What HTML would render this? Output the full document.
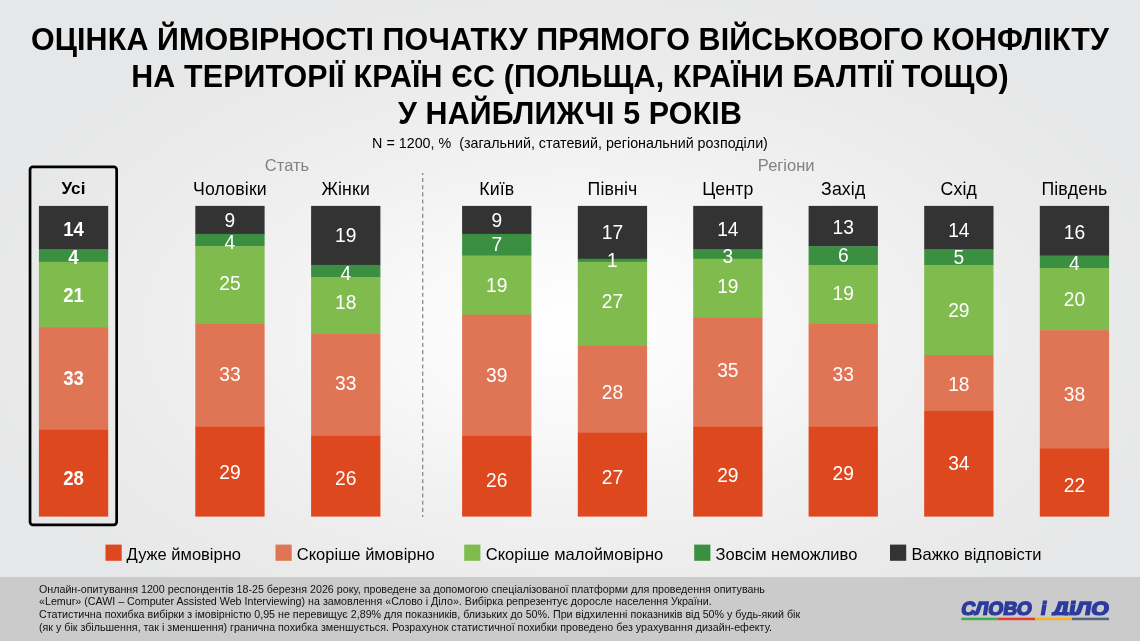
<!DOCTYPE html>
<html lang="uk"><head><meta charset="utf-8"><title>Оцінка ймовірності</title>
<style>
html,body{margin:0;padding:0}
body{width:1140px;height:641px;overflow:hidden;position:relative;font-family:"Liberation Sans",sans-serif;color:#000;
background:radial-gradient(ellipse 640px 360px at 575px 330px, #ffffff 0%, #f9f9f9 25%, #f1f1f1 50%, #ebebeb 75%, #e6e7e8 100%);}
.title{position:absolute;left:0;width:1140px;transform:scaleY(1.03);transform-origin:50% 28.94px;text-align:center;font-weight:bold;font-size:30.4px;line-height:36.8px;letter-spacing:0.15px;white-space:nowrap}
.sub{position:absolute;left:0;top:135.4px;width:1140px;text-align:center;font-size:14.3px;line-height:16px;white-space:pre}
.grp{position:absolute;font-size:16.5px;color:#828282;line-height:18px;top:156px;text-align:center;width:120px}
.cat{position:absolute;top:179.1px;text-align:center;font-size:17.7px;letter-spacing:0.15px;line-height:20px;white-space:nowrap}
.cat.b{font-weight:bold;font-size:17.1px}
.bars{position:absolute;left:0;top:0;width:1140px;height:641px}
.num{position:absolute;color:#fff;font-size:19.2px;line-height:20px;height:20px;text-align:center;transform:scaleY(1.05)}
.num.b{font-weight:bold;font-size:18.6px;transform:scaleY(1.09)}
.box{position:absolute;left:0;top:0;width:150px;height:540px}
.div{position:absolute;left:400px;top:160px;width:50px;height:370px}
.leg{position:absolute;top:544px;font-size:16.5px;line-height:20px;white-space:nowrap}
.foot{position:absolute;left:0;top:576.5px;width:1140px;height:65px;background:#cbcbcb}
.ft{position:absolute;left:39px;top:6.1px;font-size:10.7px;line-height:12.85px;color:#111;white-space:nowrap}
.logo{position:absolute;left:958px;top:17.5px;width:156px;height:34px}
</style></head><body>
<div class="title" style="top:20.8px">ОЦІНКА ЙМОВІРНОСТІ ПОЧАТКУ ПРЯМОГО ВІЙСЬКОВОГО КОНФЛІКТУ</div>
<div class="title" style="top:57.8px">НА ТЕРИТОРІЇ КРАЇН ЄС (ПОЛЬЩА, КРАЇНИ БАЛТІЇ ТОЩО)</div>
<div class="title" style="top:94.8px">У НАЙБЛИЖЧІ 5 РОКІВ</div>
<div class="sub">N = 1200, %  (загальний, статевий, регіональний розподіли)</div>
<div class="grp" style="left:227px">Стать</div>
<div class="grp" style="left:726.2px">Регіони</div>
<svg class="box" viewBox="0 0 150 540"><rect x="30.05" y="166.85" width="86.6" height="358" rx="2.8" ry="2.8" fill="none" stroke="#000" stroke-width="2.7"/></svg>
<svg class="div" viewBox="400 160 50 370"><line x1="422.7" y1="172.9" x2="422.7" y2="517" stroke="#8a8a8a" stroke-width="1.3" stroke-dasharray="4.1 3.07" stroke-dashoffset="2.07"/></svg>
<svg class="bars" viewBox="0 0 1140 641">
<rect x="38.9" y="205.90" width="69.3" height="43.80" fill="#333333"/>
<rect x="38.9" y="249.40" width="69.3" height="12.73" fill="#3a8f40"/>
<rect x="38.9" y="261.83" width="69.3" height="65.55" fill="#7fbb4d"/>
<rect x="38.9" y="327.07" width="69.3" height="102.83" fill="#e07555"/>
<rect x="38.9" y="429.60" width="69.3" height="87.00" fill="#de481e"/>
<rect x="195.3" y="205.90" width="69.3" height="28.26" fill="#333333"/>
<rect x="195.3" y="233.86" width="69.3" height="12.73" fill="#3a8f40"/>
<rect x="195.3" y="246.29" width="69.3" height="77.97" fill="#7fbb4d"/>
<rect x="195.3" y="323.97" width="69.3" height="102.83" fill="#e07555"/>
<rect x="195.3" y="426.50" width="69.3" height="90.10" fill="#de481e"/>
<rect x="311.1" y="205.90" width="69.3" height="59.33" fill="#333333"/>
<rect x="311.1" y="264.93" width="69.3" height="12.73" fill="#3a8f40"/>
<rect x="311.1" y="277.36" width="69.3" height="56.23" fill="#7fbb4d"/>
<rect x="311.1" y="333.29" width="69.3" height="102.83" fill="#e07555"/>
<rect x="311.1" y="435.82" width="69.3" height="80.78" fill="#de481e"/>
<rect x="462.1" y="205.90" width="69.3" height="28.26" fill="#333333"/>
<rect x="462.1" y="233.86" width="69.3" height="22.05" fill="#3a8f40"/>
<rect x="462.1" y="255.61" width="69.3" height="59.33" fill="#7fbb4d"/>
<rect x="462.1" y="314.64" width="69.3" height="121.47" fill="#e07555"/>
<rect x="462.1" y="435.82" width="69.3" height="80.78" fill="#de481e"/>
<rect x="577.8" y="205.90" width="69.3" height="53.12" fill="#333333"/>
<rect x="577.8" y="258.72" width="69.3" height="3.41" fill="#3a8f40"/>
<rect x="577.8" y="261.83" width="69.3" height="84.19" fill="#7fbb4d"/>
<rect x="577.8" y="345.72" width="69.3" height="87.30" fill="#e07555"/>
<rect x="577.8" y="432.71" width="69.3" height="83.89" fill="#de481e"/>
<rect x="693.2" y="205.90" width="69.3" height="43.80" fill="#333333"/>
<rect x="693.2" y="249.40" width="69.3" height="9.62" fill="#3a8f40"/>
<rect x="693.2" y="258.72" width="69.3" height="59.33" fill="#7fbb4d"/>
<rect x="693.2" y="317.75" width="69.3" height="109.05" fill="#e07555"/>
<rect x="693.2" y="426.50" width="69.3" height="90.10" fill="#de481e"/>
<rect x="808.6" y="205.90" width="69.3" height="40.69" fill="#333333"/>
<rect x="808.6" y="246.29" width="69.3" height="18.94" fill="#3a8f40"/>
<rect x="808.6" y="264.93" width="69.3" height="59.33" fill="#7fbb4d"/>
<rect x="808.6" y="323.97" width="69.3" height="102.83" fill="#e07555"/>
<rect x="808.6" y="426.50" width="69.3" height="90.10" fill="#de481e"/>
<rect x="924.2" y="205.90" width="69.3" height="43.80" fill="#333333"/>
<rect x="924.2" y="249.40" width="69.3" height="15.84" fill="#3a8f40"/>
<rect x="924.2" y="264.93" width="69.3" height="90.40" fill="#7fbb4d"/>
<rect x="924.2" y="355.04" width="69.3" height="56.23" fill="#e07555"/>
<rect x="924.2" y="410.96" width="69.3" height="105.64" fill="#de481e"/>
<rect x="1039.8" y="205.90" width="69.3" height="50.01" fill="#333333"/>
<rect x="1039.8" y="255.61" width="69.3" height="12.73" fill="#3a8f40"/>
<rect x="1039.8" y="268.04" width="69.3" height="62.44" fill="#7fbb4d"/>
<rect x="1039.8" y="330.18" width="69.3" height="118.37" fill="#e07555"/>
<rect x="1039.8" y="448.25" width="69.3" height="68.35" fill="#de481e"/>
<rect x="105.5" y="544.6" width="16.2" height="16.2" fill="#de481e"/>
<rect x="275.5" y="544.6" width="16.2" height="16.2" fill="#e07555"/>
<rect x="464.2" y="544.6" width="16.2" height="16.2" fill="#7fbb4d"/>
<rect x="694.2" y="544.6" width="16.2" height="16.2" fill="#3a8f40"/>
<rect x="890.0" y="544.6" width="16.2" height="16.2" fill="#333333"/>
</svg>
<div class="cat b" style="left:8.9px;width:129.3px">Усі</div>
<div class="num b" style="left:38.9px;top:219.4px;width:69.3px">14</div>
<div class="num b" style="left:38.9px;top:247.2px;width:69.3px">4</div>
<div class="num b" style="left:38.9px;top:284.7px;width:69.3px">21</div>
<div class="num b" style="left:38.9px;top:367.6px;width:69.3px">33</div>
<div class="num b" style="left:38.9px;top:467.8px;width:69.3px">28</div>
<div class="cat" style="left:165.3px;width:129.3px">Чоловіки</div>
<div class="num" style="left:195.3px;top:210.8px;width:69.3px">9</div>
<div class="num" style="left:195.3px;top:233.1px;width:69.3px">4</div>
<div class="num" style="left:195.3px;top:274.0px;width:69.3px">25</div>
<div class="num" style="left:195.3px;top:364.8px;width:69.3px">33</div>
<div class="num" style="left:195.3px;top:462.8px;width:69.3px">29</div>
<div class="cat" style="left:281.1px;width:129.3px">Жінки</div>
<div class="num" style="left:311.1px;top:226.1px;width:69.3px">19</div>
<div class="num" style="left:311.1px;top:263.8px;width:69.3px">4</div>
<div class="num" style="left:311.1px;top:293.0px;width:69.3px">18</div>
<div class="num" style="left:311.1px;top:373.8px;width:69.3px">33</div>
<div class="num" style="left:311.1px;top:468.8px;width:69.3px">26</div>
<div class="cat" style="left:432.1px;width:129.3px">Київ</div>
<div class="num" style="left:462.1px;top:210.9px;width:69.3px">9</div>
<div class="num" style="left:462.1px;top:234.5px;width:69.3px">7</div>
<div class="num" style="left:462.1px;top:275.8px;width:69.3px">19</div>
<div class="num" style="left:462.1px;top:366.0px;width:69.3px">39</div>
<div class="num" style="left:462.1px;top:471.3px;width:69.3px">26</div>
<div class="cat" style="left:547.8px;width:129.3px">Північ</div>
<div class="num" style="left:577.8px;top:222.5px;width:69.3px">17</div>
<div class="num" style="left:577.8px;top:251.3px;width:69.3px">1</div>
<div class="num" style="left:577.8px;top:292.0px;width:69.3px">27</div>
<div class="num" style="left:577.8px;top:382.8px;width:69.3px">28</div>
<div class="num" style="left:577.8px;top:468.2px;width:69.3px">27</div>
<div class="cat" style="left:663.2px;width:129.3px">Центр</div>
<div class="num" style="left:693.2px;top:220.0px;width:69.3px">14</div>
<div class="num" style="left:693.2px;top:246.9px;width:69.3px">3</div>
<div class="num" style="left:693.2px;top:276.5px;width:69.3px">19</div>
<div class="num" style="left:693.2px;top:361.3px;width:69.3px">35</div>
<div class="num" style="left:693.2px;top:465.9px;width:69.3px">29</div>
<div class="cat" style="left:778.6px;width:129.3px">Захід</div>
<div class="num" style="left:808.6px;top:217.5px;width:69.3px">13</div>
<div class="num" style="left:808.6px;top:246.3px;width:69.3px">6</div>
<div class="num" style="left:808.6px;top:283.5px;width:69.3px">19</div>
<div class="num" style="left:808.6px;top:365.2px;width:69.3px">33</div>
<div class="num" style="left:808.6px;top:464.0px;width:69.3px">29</div>
<div class="cat" style="left:894.2px;width:129.3px">Схід</div>
<div class="num" style="left:924.2px;top:221.1px;width:69.3px">14</div>
<div class="num" style="left:924.2px;top:248.2px;width:69.3px">5</div>
<div class="num" style="left:924.2px;top:300.8px;width:69.3px">29</div>
<div class="num" style="left:924.2px;top:375.3px;width:69.3px">18</div>
<div class="num" style="left:924.2px;top:453.9px;width:69.3px">34</div>
<div class="cat" style="left:1009.8px;width:129.3px">Південь</div>
<div class="num" style="left:1039.8px;top:222.8px;width:69.3px">16</div>
<div class="num" style="left:1039.8px;top:253.5px;width:69.3px">4</div>
<div class="num" style="left:1039.8px;top:289.8px;width:69.3px">20</div>
<div class="num" style="left:1039.8px;top:385.1px;width:69.3px">38</div>
<div class="num" style="left:1039.8px;top:476.0px;width:69.3px">22</div>
<div class="leg" style="left:126.6px">Дуже ймовірно</div>
<div class="leg" style="left:296.8px">Скоріше ймовірно</div>
<div class="leg" style="left:485.8px">Скоріше малоймовірно</div>
<div class="leg" style="left:715.5px">Зовсім неможливо</div>
<div class="leg" style="left:911.5px">Важко відповісти</div>
<div class="foot">
<div class="ft">Онлайн-опитування 1200 респондентів 18-25 березня 2026 року, проведене за допомогою спеціалізованої платформи для проведення опитувань<br>«Lemur» (CAWI – Computer Assisted Web Interviewing) на замовлення «Слово і Діло». Вибірка репрезентує доросле населення України.<br>Статистична похибка вибірки з імовірністю 0,95 не перевищує 2,89% для показників, близьких до 50%. При відхиленні показників від 50% у будь-який бік<br>(як у бік збільшення, так і зменшення) гранична похибка зменшується. Розрахунок статистичної похибки проведено без урахування дизайн-ефекту.</div>
<svg class="logo" viewBox="0 0 156 34">
<defs><clipPath id="lc"><rect x="-10" y="0" width="176" height="21.4"/></clipPath></defs>
<g clip-path="url(#lc)"><g transform="translate(0,20.6) skewX(-9) translate(0,-20.6)" font-family="Liberation Sans, sans-serif" font-weight="bold" font-size="19" fill="#2c3b9d" stroke="#2c3b9d" stroke-width="1.5" stroke-linejoin="miter">
<text x="2.6" y="20.6" textLength="70.5" lengthAdjust="spacingAndGlyphs">СЛОВО</text>
<text x="82" y="20.6" textLength="5.6" lengthAdjust="spacingAndGlyphs">і</text>
<text x="94" y="20.6" textLength="56.1" lengthAdjust="spacingAndGlyphs">ДіЛО</text>
</g></g>
<rect x="3.3" y="23.7" width="37" height="2.5" fill="#3fae49"/>
<rect x="40.2" y="23.7" width="37" height="2.5" fill="#e8392f"/>
<rect x="77.1" y="23.7" width="37" height="2.5" fill="#f6b221"/>
<rect x="114" y="23.7" width="37" height="2.5" fill="#566581"/>
</svg>
</div>
</body></html>
